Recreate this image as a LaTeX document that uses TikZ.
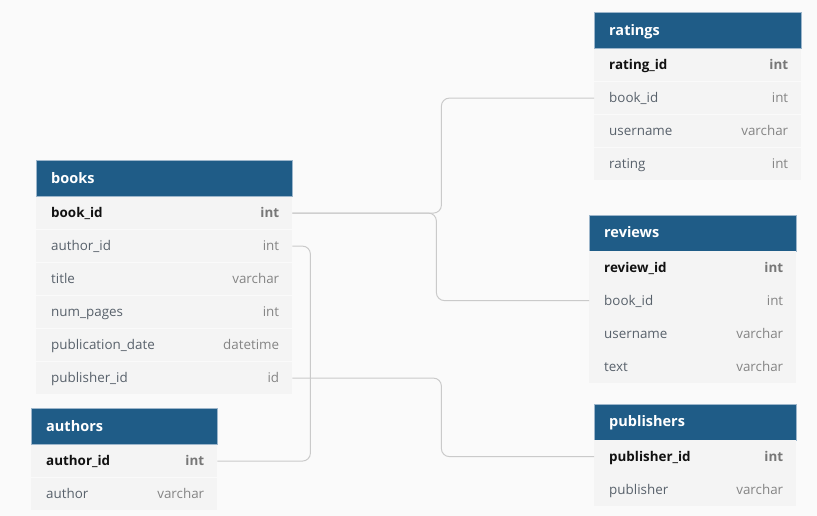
\documentclass[tikz,border=0pt]{standalone}
\usepackage{fontspec}
\setmainfont{Open Sans}
\usetikzlibrary{calc}
\definecolor{bg}{HTML}{FAFAFA}
\definecolor{hdrblue}{HTML}{1F5C87}
\definecolor{hdredge}{HTML}{9DB6CB}
\definecolor{rowbg}{HTML}{F4F4F4}
\definecolor{fieldgray}{HTML}{58616B}
\definecolor{typegray}{HTML}{858585}
\definecolor{keyblack}{HTML}{111111}
\definecolor{keytype}{HTML}{777777}
\definecolor{linegray}{HTML}{CACACA}
\tikzset{
  hdr/.style={draw=hdredge, line width=0.6pt, fill=hdrblue, minimum height=36pt, inner sep=0pt, anchor=north west},
  hdrtext/.style={text=white, font=\fontsize{14.5}{16}\selectfont\bfseries, anchor=base west, inner sep=0pt},
  rowbox/.style={fill=rowbg, minimum height=32.6pt, inner sep=0pt, anchor=north west},
  fname/.style={text=fieldgray, font=\fontsize{13.4}{15}\selectfont, anchor=base west, inner sep=0pt},
  ftype/.style={text=typegray, font=\fontsize{13.4}{15}\selectfont, anchor=base east, inner sep=0pt},
  kname/.style={text=keyblack, font=\fontsize{13.4}{15}\selectfont\bfseries, anchor=base west, inner sep=0pt},
  ktype/.style={text=keytype, font=\fontsize{13.4}{15}\selectfont\bfseries, anchor=base east, inner sep=0pt},
  conn/.style={draw=linegray, line width=1pt, rounded corners=8pt},
}
% #1 id, #2 x, #3 y, #4 width, #5 title
\newcommand\erdhead[5]{%
  \node[hdr, minimum width=#4pt] (#1h) at (#2,#3) {};
  \node[hdrtext] (#1t) at ([xshift=15pt, yshift=-5pt]#1h.west) {#5};
}
% #1 id, #2 prev node, #3 index, #4 width, #5 name, #6 type, #7 style prefix (k or f)
\newcommand\erdrow[7]{%
  \node[rowbox, minimum width=#4pt] (#1#3) at (#2.south west) {};
  \node[#7name] (#1#3n) at ([xshift=15pt, yshift=-4.6pt]#1#3.west) {#5};
  \node[#7type] (#1#3y) at ([xshift=-13pt, yshift=-4.6pt]#1#3.east) {#6};
}
\begin{document}
\begin{tikzpicture}[x=1pt, y=-1pt]
\fill[bg] (0,0) rectangle (817,516);
\useasboundingbox (0,0) rectangle (817,516);

% books
\erdhead{bk}{36}{160}{256}{books}
\erdrow{bk}{bkh}{1}{256}{book\_id}{int}{k}
\erdrow{bk}{bk1}{2}{256}{author\_id}{int}{f}
\erdrow{bk}{bk2}{3}{256}{title}{varchar}{f}
\erdrow{bk}{bk3}{4}{256}{num\_pages}{int}{f}
\erdrow{bk}{bk4}{5}{256}{publication\_date}{datetime}{f}
\erdrow{bk}{bk5}{6}{256}{publisher\_id}{id}{f}

% authors
\erdhead{au}{31}{408}{186}{authors}
\erdrow{au}{auh}{1}{186}{author\_id}{int}{k}
\erdrow{au}{au1}{2}{186}{author}{varchar}{f}

% ratings
\erdhead{ra}{594}{12}{207}{ratings}
\erdrow{ra}{rah}{1}{207}{rating\_id}{int}{k}
\erdrow{ra}{ra1}{2}{207}{book\_id}{int}{f}
\erdrow{ra}{ra2}{3}{207}{username}{varchar}{f}
\erdrow{ra}{ra3}{4}{207}{rating}{int}{f}

% reviews
\erdhead{rv}{589}{214.5}{207}{reviews}
\erdrow{rv}{rvh}{1}{207}{review\_id}{int}{k}
\erdrow{rv}{rv1}{2}{207}{book\_id}{int}{f}
\erdrow{rv}{rv2}{3}{207}{username}{varchar}{f}
\erdrow{rv}{rv3}{4}{207}{text}{varchar}{f}

% publishers
\erdhead{pb}{594}{403.5}{202}{publishers}
\erdrow{pb}{pbh}{1}{202}{publisher\_id}{int}{k}
\erdrow{pb}{pb1}{2}{202}{publisher}{varchar}{f}

% connectors
\draw[conn] (bk1.east) -- ++(149,0) |- (ra2.west);
\draw[conn] (bk1.east) -- ++(144,0) |- (rv2.west);
\draw[conn] (bk2.east) -- ++(18,0) |- (au1.east);
\draw[conn] (bk6.east) -- ++(149,0) |- (pb1.west);
\end{tikzpicture}
\end{document}
